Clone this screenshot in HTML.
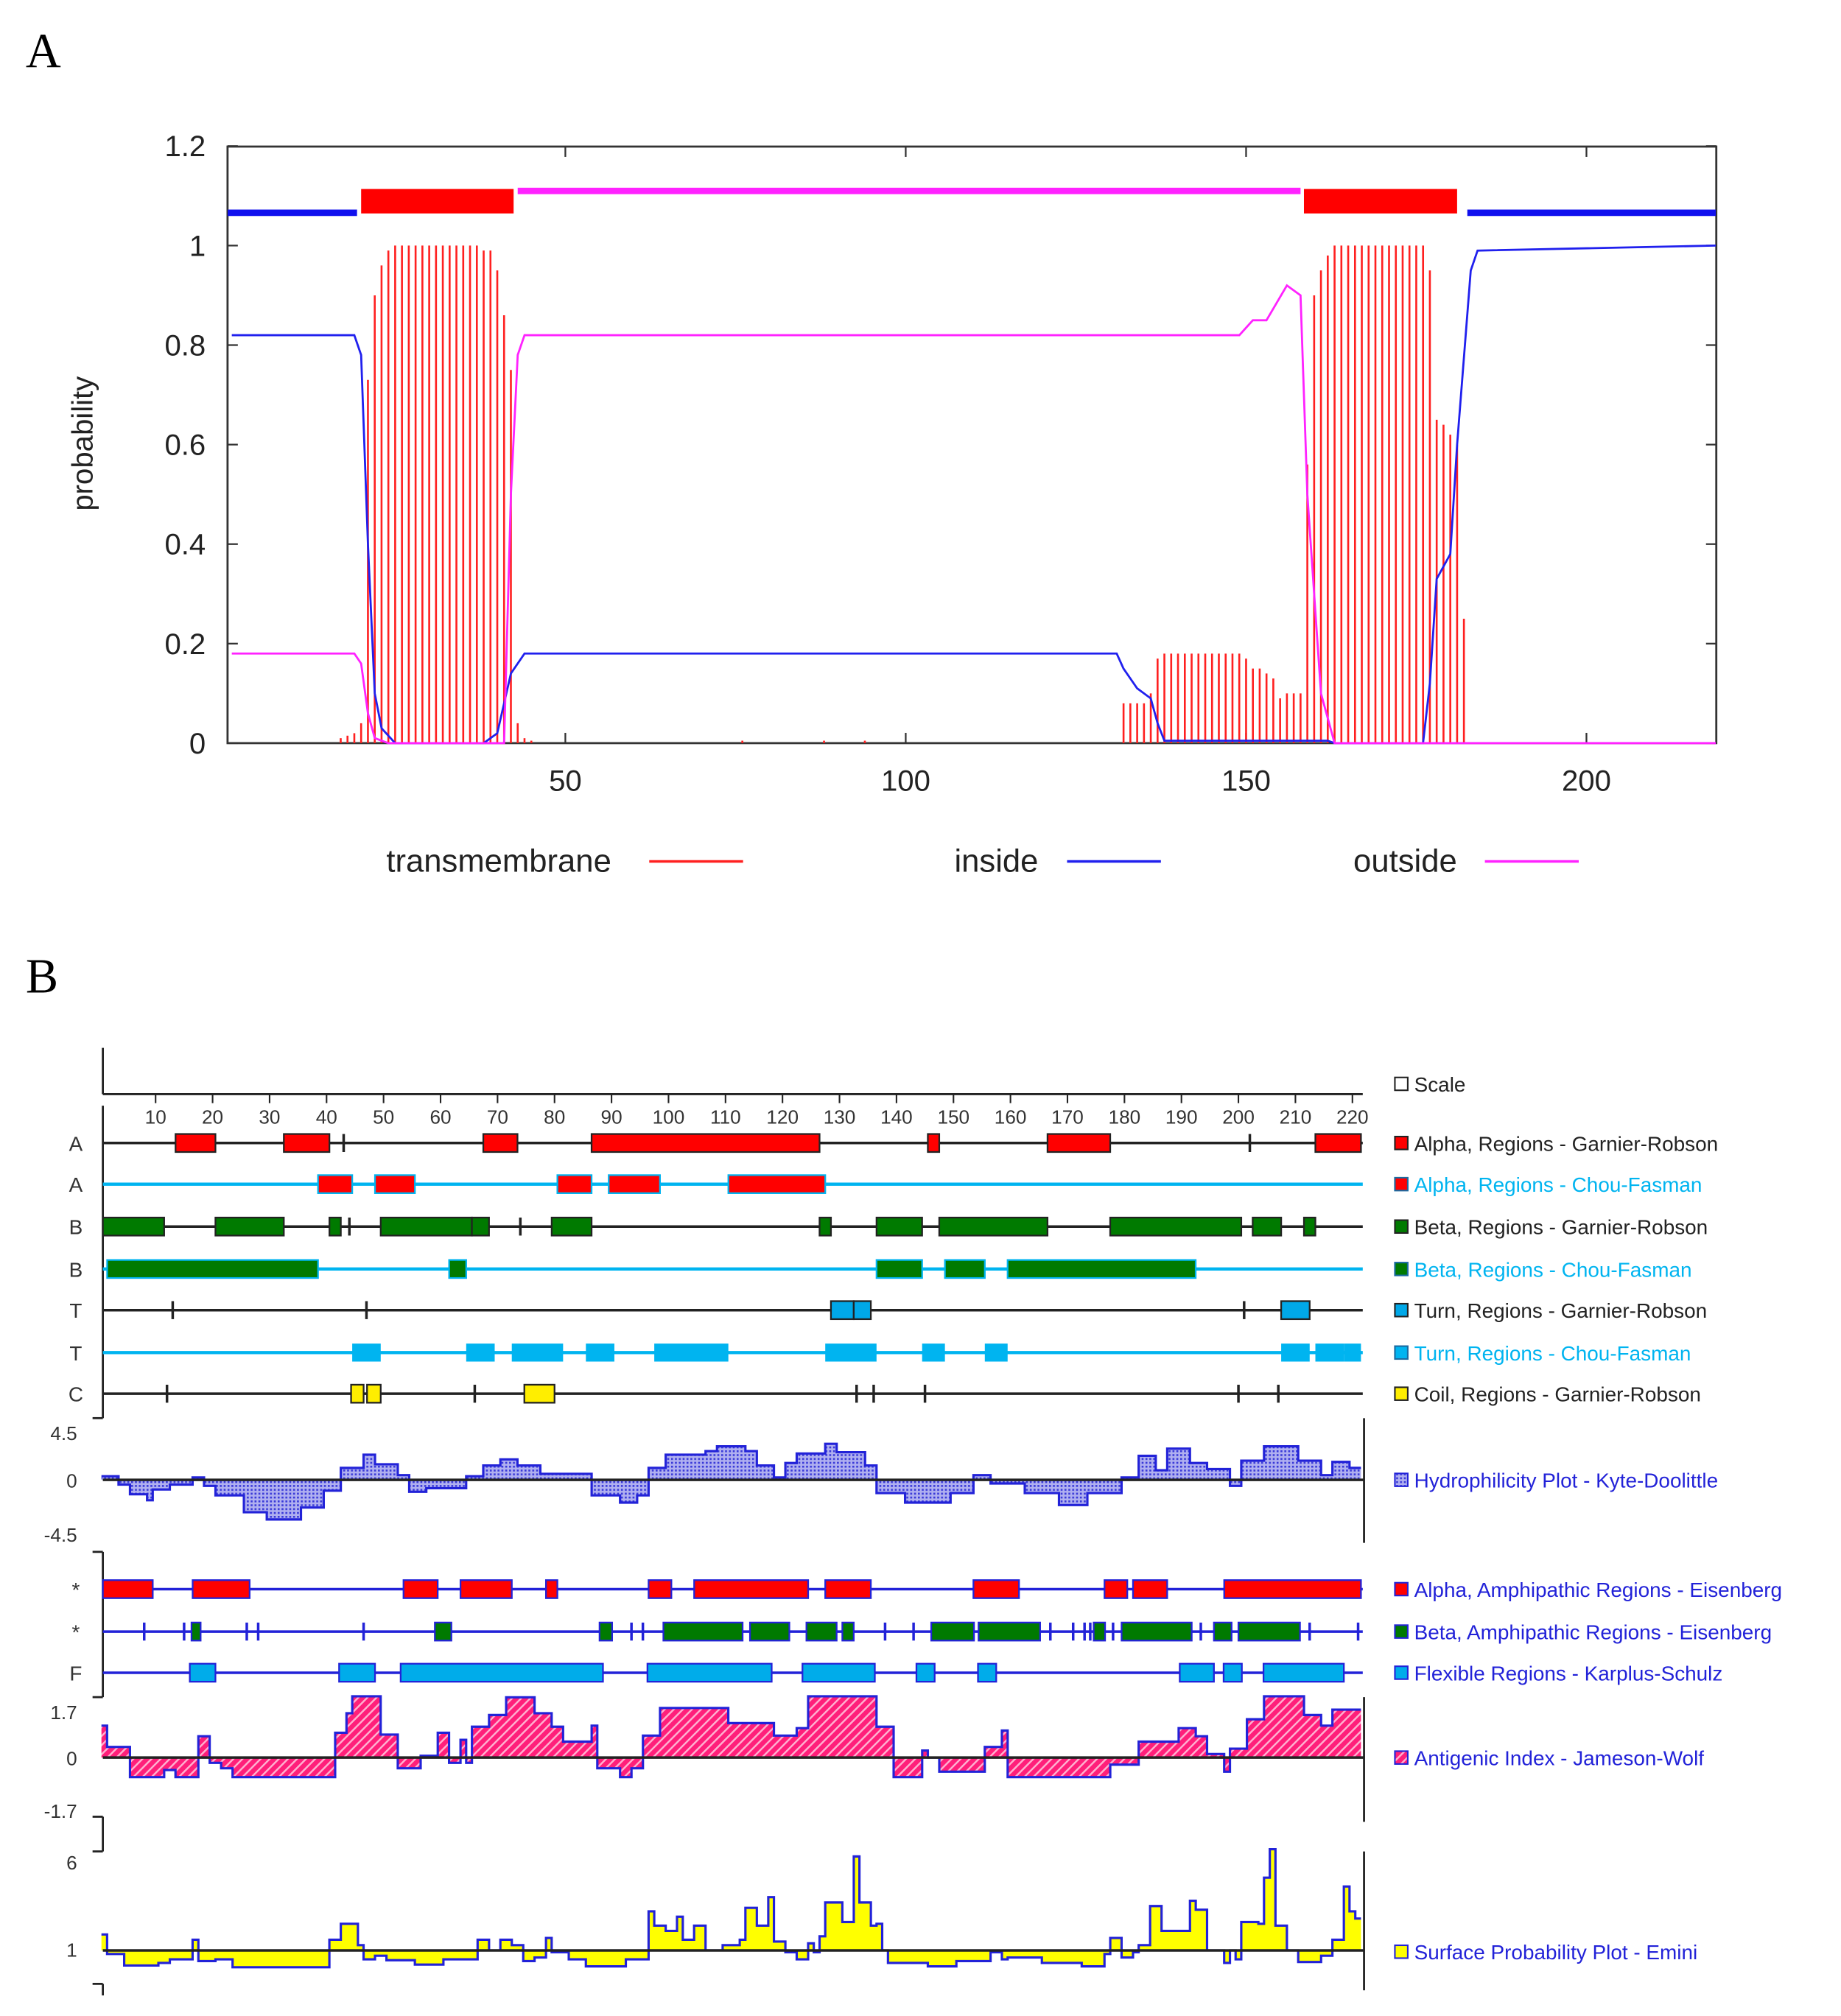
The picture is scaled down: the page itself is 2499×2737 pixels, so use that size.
<!DOCTYPE html>
<html><head><meta charset="utf-8">
<style>
html,body{margin:0;padding:0;background:#fff;}
svg{display:block;}
text{font-family:"Liberation Sans",sans-serif;}
</style></head>
<body>
<svg id="fig" xmlns="http://www.w3.org/2000/svg" width="2499" height="2737" viewBox="0 0 1432 1568" preserveAspectRatio="none">
<defs>
<pattern id="hatchPink" patternUnits="userSpaceOnUse" width="5" height="5" patternTransform="rotate(45)">
<rect width="5" height="5" fill="#ff1f7a"/><rect width="1.4" height="5" fill="#ffb0d0"/>
</pattern>
<pattern id="dotBlue" patternUnits="userSpaceOnUse" width="3" height="3">
<rect width="3" height="3" fill="#b0b0f0"/><rect width="1.5" height="1.5" fill="#3a3ad8"/>
</pattern>
</defs>
<text x="20" y="52" font-size="38" style="font-family:'Liberation Serif',serif">A</text>
<text x="20" y="772" font-size="38" style="font-family:'Liberation Serif',serif">B</text>
<g id="pa"></g>
<g id="pb"></g>
</svg>
<script>
// ---------- Panel A data ----------
const tmResidues = [17,18,19,20,21,22,23,24,25,26,27,28,29,30,31,32,33,34,35,36,37,38,39,40,41,42,43,44,45,76,88,94,
 132,133,134,135,136,137,138,139,140,141,142,143,144,145,146,147,148,149,150,151,152,153,154,155,156,157,158,
 159,160,161,162,163,164,165,166,167,168,169,170,171,172,173,174,175,176,177,178,179,180,181,182];
const tmValues = [0.01,0.015,0.02,0.04,0.73,0.9,0.96,0.99,1,1,1,1,1,1,1,1,1,1,1,1,1,0.99,0.99,0.95,0.86,0.75,0.04,0.01,0.005,0.005,0.005,0.005,
 0.08,0.08,0.08,0.08,0.1,0.17,0.18,0.18,0.18,0.18,0.18,0.18,0.18,0.18,0.18,0.18,0.18,0.18,0.17,0.15,0.15,0.14,0.13,0.09,0.1,0.1,0.1,
 0.56,0.9,0.95,0.98,1,1,1,1,1,1,1,1,1,1,1,1,1,1,0.95,0.65,0.64,0.62,0.6,0.25];
const insideRes = [1,19,20,21,22,23,25,38,40,41,42,44,131,132,134,136,137,138,162,163,176,177,178,180,181,183,184,219];
const insideVal = [0.82,0.82,0.78,0.4,0.1,0.03,0,0,0.02,0.08,0.14,0.18,0.18,0.15,0.11,0.09,0.04,0.005,0.005,0,0,0.12,0.33,0.38,0.6,0.95,0.99,1.0];
const outsideRes = [1,19,20,21,22,24,41,42,43,44,149,151,153,156,158,159,161,163,219];
const outsideVal = [0.18,0.18,0.16,0.06,0.01,0,0,0.5,0.78,0.82,0.82,0.85,0.85,0.92,0.9,0.5,0.1,0,0];
const topoStart = [0.4,20,43,158.5,182.5];
const topoEnd = [19.4,42.4,158,181,219];
const topoKind = ['inside','tm','outside','tm','inside'];
const yTicksA = [0,0.2,0.4,0.6,0.8,1,1.2];
const yTickLabelsA = ['0','0.2','0.4','0.6','0.8','1','1.2'];
const xTicksA = [50,100,150,200];

// ---------- Panel B data ----------
const scaleTicks = [10,20,30,40,50,60,70,80,90,100,110,120,130,140,150,160,170,180,190,200,210,220];
const alphaGRBoxes = [[14,20],[33,40],[68,73],[87,126],[146,147],[167,177],[214,221]];
const alphaGRTicks = [43,202];
const alphaCFBoxes = [[39,44],[49,55],[81,86],[90,98],[111,127]];
const betaGRBoxes = [[1,11],[21,32],[41,42],[50,65],[66,68],[80,86],[127,128],[137,144],[148,166],[178,200],[203,207],[212,213]];
const betaGRTicks = [44,74];
const betaCFBoxes = [[2,38],[62,64],[137,144],[149,155],[160,192]];
const turnGRBoxes = [[129,132],[133,135],[208,212]];
const turnGRTicks = [13,47,201];
const turnCFBoxes = [[45,49],[65,69],[73,81],[86,90],[98,110],[128,136],[145,148],[156,159],[208,212],[214,218],[219,221]];
const coilBoxes = [[44.8,46],[47.6,49],[75.2,79.5]];
const coilTicks = [12,66,133,136,145,200,207];
const amphAlphaBoxes = [[1,9],[17,26],[54,59],[64,72],[79,80],[97,100],[105,124],[128,135],[154,161],[177,180],[182,187],[198,221]];
const amphBetaBoxes = [[16.8,17.4],[59.5,61.4],[88.4,89.6],[99.6,112.5],[114.8,120.7],[124.7,129],[131,132],[146.6,153.1],[154.9,164.7],[175.1,176.1],[180,191.3],[196.2,198.3],[200.5,210.3]];
const amphBetaTicks = [8,15,26,28,46.5,93.5,95.5,138,143,167,171,173,174,178,193.4,212.5,221];
const flexBoxes = [[16.5,20],[42.7,48],[53.5,88],[96.8,117.6],[124,135.7],[144,146.2],[154.8,157],[190.2,195.2],[197.9,200.1],[204.9,218]];
const hydro = [[1,0.3],[4,-0.4],[6,-1.2],[9,-1.7],[10,-0.8],[13,-0.4],[17,0.2],[19,-0.5],[21,-1.3],[26,-2.7],[30,-3.3],[36,-2.3],[40,-0.9],[43,1.0],[47,2.1],[49,1.3],[53,0.4],[55,-1.0],[58,-0.7],[65,0.3],[68,1.2],[71,1.7],[74,1.2],[78,0.5],[87,-1.3],[92,-1.9],[95,-1.3],[97,1.0],[100,2.1],[107,2.4],[109,2.8],[114,2.4],[116,1.2],[119,0.2],[121,1.4],[123,2.2],[128,3.0],[130,2.3],[135,1.2],[137,-1.1],[142,-1.9],[150,-1.1],[154,0.4],[157,-0.3],[163,-1.1],[169,-2.1],[174,-1.1],[180,0.2],[183,2.0],[186,0.8],[188,2.6],[192,1.4],[195,0.9],[199,-0.5],[201,1.6],[205,2.8],[211,1.6],[215,0.4],[217,1.5],[220,1.0]];
const antigenic = [[1,0.9],[2,0.3],[6,-0.55],[12,-0.35],[14,-0.55],[18,0.6],[20,-0.15],[22,-0.3],[24,-0.55],[42,0.7],[44,1.25],[45,1.73],[50,0.65],[53,-0.3],[57,0.05],[60,0.7],[62,-0.15],[64,0.5],[65,-0.15],[66,0.87],[69,1.2],[72,1.7],[77,1.25],[80,0.87],[82,0.45],[87,0.9],[88,-0.3],[92,-0.55],[94,-0.3],[96,0.62],[99,1.4],[111,0.97],[119,0.62],[123,0.83],[125,1.73],[137,0.87],[140,-0.55],[145,0.2],[146,0],[148,-0.4],[156,0.3],[159,0.76],[160,-0.55],[178,-0.2],[183,0.45],[190,0.83],[193,0.6],[195,0.1],[198,-0.4],[199,0.25],[202,1.08],[205,1.73],[212,1.2],[215,0.9],[217,1.35]];
const surface = [[1,1.9],[2,0.8],[5,0.15],[11,0.3],[13,0.5],[17,1.6],[18,0.4],[21,0.5],[24,0.05],[41,1.6],[43,2.5],[46,1.3],[47,0.5],[49,0.7],[51,0.45],[56,0.2],[61,0.5],[67,1.6],[69,1.0],[71,1.6],[73,1.3],[75,0.4],[77,0.6],[79,1.7],[80,0.9],[83,0.5],[86,0.1],[93,0.5],[97,3.2],[98,2.4],[100,2.1],[102,2.9],[103,1.6],[105,2.4],[107,1.0],[110,1.3],[113,1.6],[114,3.4],[116,2.4],[118,4.0],[119,1.5],[121,0.9],[123,0.5],[125,1.4],[126,0.9],[127,1.8],[128,3.7],[131,2.6],[133,6.3],[134,3.7],[136,2.4],[137,2.5],[138,1.0],[139,0.3],[146,0.1],[151,0.4],[157,0.9],[159,0.5],[160,0.6],[166,0.3],[173,0.1],[177,0.8],[178,1.7],[180,0.6],[182,0.9],[183,1.3],[185,3.5],[187,2.1],[192,3.8],[193,3.3],[195,1.0],[198,0.3],[199,1.0],[200,0.5],[201,2.6],[204,2.5],[205,5.1],[206,6.7],[207,2.4],[209,1.0],[211,0.35],[215,0.7],[217,1.6],[219,4.6],[220,3.2],[221,2.8]];

const NS='http://www.w3.org/2000/svg';
function mk(parent, tag, attrs){const e=document.createElementNS(NS,tag);for(const k in attrs)e.setAttribute(k,attrs[k]);parent.appendChild(e);return e;}

// ---------- Panel A ----------
const pa=document.getElementById('pa');
const AX0=175, AXS=5.295, AY0=578, AYS=387;
const xA=r=>AX0+AXS*r, yA=v=>AY0-AYS*v;
let e;
e=mk(pa,'rect',{x:177,y:114,width:1158,height:464,fill:'none',stroke:'#333','stroke-width':1.6});


yTicksA.forEach((v,i)=>{
  e=mk(pa,'line',{x1:177,x2:185,y1:yA(v),y2:yA(v),stroke:'#333','stroke-width':1.3});
  
  
  e=mk(pa,'line',{x1:1327,x2:1335,y1:yA(v),y2:yA(v),stroke:'#333','stroke-width':1.3});
  
  
  e=mk(pa,'text',{x:160,y:yA(v)+8,'text-anchor':'end','font-size':23,fill:'#222'});
  e.textContent=yTickLabelsA[i];
  
  
});
xTicksA.forEach(v=>{
  e=mk(pa,'line',{x1:xA(v),x2:xA(v),y1:578,y2:570,stroke:'#333','stroke-width':1.3});
  
  
  e=mk(pa,'line',{x1:xA(v),x2:xA(v),y1:114,y2:122,stroke:'#333','stroke-width':1.3});
  
  
  e=mk(pa,'text',{x:xA(v),y:615,'text-anchor':'middle','font-size':23,fill:'#222'});
  e.textContent=String(v);
  
  
});
e=mk(pa,'text',{x:0,y:0,'text-anchor':'middle','font-size':23,fill:'#222',transform:'translate(72,345) rotate(-90)'});
e.textContent='probability';


tmResidues.forEach((r,i)=>{
  e=mk(pa,'line',{x1:xA(r),x2:xA(r),y1:AY0,y2:yA(tmValues[i]),stroke:'#ff2020','stroke-width':1.5});
  
  
});
function poly(res,vals){return res.map((r,i)=>(i?'L':'M')+xA(r).toFixed(1)+','+yA(vals[i]).toFixed(1)).join(' ');}
e=mk(pa,'path',{d:poly(insideRes,insideVal),fill:'none',stroke:'#2020ee','stroke-width':1.6});


e=mk(pa,'path',{d:poly(outsideRes,outsideVal),fill:'none',stroke:'#ff22ff','stroke-width':1.6});


topoKind.forEach((k,i)=>{
  const x1=Math.max(177,xA(topoStart[i])), x2=Math.min(1335,xA(topoEnd[i]));
  if(k==='tm'){e=mk(pa,'rect',{x:x1,y:147,width:x2-x1,height:19,fill:'#ff0000'});}
  else if(k==='inside'){e=mk(pa,'rect',{x:x1,y:163,width:x2-x1,height:5,fill:'#1010ee'});}
  else {e=mk(pa,'rect',{x:x1,y:146,width:x2-x1,height:5,fill:'#ff22ff'});}
  
  
});
[['transmembrane',388,505,'#ff2020'],['inside',775,830,'#2020ee'],['outside',1093,1155,'#ff22ff']].forEach(l=>{
  e=mk(pa,'text',{x:l[1],y:678,'text-anchor':'middle','font-size':25,fill:'#222'});
  e.textContent=l[0];
  
  
  e=mk(pa,'line',{x1:l[2],x2:l[2]+73,y1:670,y2:670,stroke:l[3],'stroke-width':2});
  
  
});

// ---------- Panel B ----------
const pb=document.getElementById('pb');
const BX0=76.7, BXS=4.433;
const xB=r=>BX0+BXS*r;
const LX1=80, LX2=1060;
const BLACK='#222', CYAN='#00b4f0', BLUE='#2222d8';
[[80,815,80,851],[80,851,1060,851],[80,860,80,1103],[72,1103,80,1103],[72,1207,80,1207],[80,1207,80,1320],[72,1320,80,1320],[72,1413,80,1413],[80,1413,80,1440],[72,1440,80,1440],[72,1543,80,1543],[80,1543,80,1552],
 [1061,1103,1061,1200],[1061,1320,1061,1417],[1061,1440,1061,1548]].forEach(s=>{
  e=mk(pb,'line',{x1:s[0],y1:s[1],x2:s[2],y2:s[3],stroke:BLACK,'stroke-width':1.6});
  
  
});
scaleTicks.forEach(t=>{
  e=mk(pb,'line',{x1:xB(t),x2:xB(t),y1:851,y2:858,stroke:BLACK,'stroke-width':1.2});
  
  
  e=mk(pb,'text',{x:xB(t),y:874,'text-anchor':'middle','font-size':15,fill:'#333'});
  e.textContent=String(t);
  
  
});
function row(name,y,letter,lineColor,lw,boxes,fill,stroke,ticks,tickColor){
  e=mk(pb,'line',{x1:LX1,x2:LX2,y1:y,y2:y,stroke:lineColor,'stroke-width':lw});
  
  
  if(letter){
    e=mk(pb,'text',{x:59,y:y+6,'text-anchor':'middle','font-size':16,fill:'#333'});
    e.textContent=letter;
    
    
  }
  boxes.forEach(b=>{
    const x1=Math.max(LX1,xB(b[0]-0.5)), x2=Math.min(LX2,xB(b[1]+0.5));
    const a={x:x1,y:y-7,width:x2-x1,height:14,fill:fill};
    if(stroke){a.stroke=stroke;a['stroke-width']=1.3;}
    e=mk(pb,'rect',a);
    
    
  });
  (ticks||[]).forEach(t=>{
    e=mk(pb,'line',{x1:Math.min(LX2,xB(t)),x2:Math.min(LX2,xB(t)),y1:y-7,y2:y+7,stroke:tickColor,'stroke-width':2});
    
    
  });
}
row('alpha-garnier',889,'A',BLACK,2,alphaGRBoxes,'#ff0000',BLACK,alphaGRTicks,BLACK);
row('alpha-chou',921,'A',CYAN,2.5,alphaCFBoxes,'#ff0000',CYAN,[],CYAN);
row('beta-garnier',954,'B',BLACK,2,betaGRBoxes,'#007a00',BLACK,betaGRTicks,BLACK);
row('beta-chou',987,'B',CYAN,2.5,betaCFBoxes,'#007a00',CYAN,[],CYAN);
row('turn-garnier',1019,'T',BLACK,2,turnGRBoxes,'#00a8e8',BLACK,turnGRTicks,BLACK);
row('turn-chou',1052,'T',CYAN,2.5,turnCFBoxes,CYAN,null,[],CYAN);
row('coil-garnier',1084,'C',BLACK,2,coilBoxes,'#ffee00',BLACK,coilTicks,BLACK);
row('amph-alpha',1236,'*',BLUE,2,amphAlphaBoxes,'#ff0000',BLUE,[],BLUE);
row('amph-beta',1269,'*',BLUE,2,amphBetaBoxes,'#007a00',BLUE,amphBetaTicks,BLUE);
row('flexible',1301,'F',BLUE,2,flexBoxes,'#00acea',BLUE,[],BLUE);

function profile(name,data,base,baseVal,scale,fill){
  const y=v=>base-(v-baseVal)*scale;
  let d='M'+xB(data[0][0]-0.5).toFixed(1)+','+base;
  let o='';
  data.forEach((p,i)=>{
    const x1=xB(p[0]-0.5), x2=Math.min(LX2+1,i<data.length-1?xB(data[i+1][0]-0.5):xB(221.5));
    d+=' L'+x1.toFixed(1)+','+y(p[1]).toFixed(1)+' L'+x2.toFixed(1)+','+y(p[1]).toFixed(1);
    o+=(i?' L':'M')+x1.toFixed(1)+','+y(p[1]).toFixed(1)+' L'+x2.toFixed(1)+','+y(p[1]).toFixed(1);
  });
  const last=Math.min(LX2+1,xB(221.5));
  d+=' L'+last.toFixed(1)+','+base+' Z';
  e=mk(pb,'path',{d:d,fill:fill,stroke:'none'});
  
  
  e=mk(pb,'path',{d:o,fill:'none',stroke:BLUE,'stroke-width':1.8});
  
  
  e=mk(pb,'line',{x1:LX1,x2:1061,y1:base,y2:base,stroke:BLACK,'stroke-width':2});
  
  
}
profile('hydrophilicity',hydro,1151,0,9.33,'url(#dotBlue)');
profile('antigenic-index',antigenic,1367,0,27.6,'url(#hatchPink)');
profile('surface-probability',surface,1517,1,13.8,'#ffff00');

[['4.5',1120],['0',1157],['-4.5',1199],['1.7',1337],['0',1373],['-1.7',1414],['6',1454],['1',1522]].forEach(l=>{
  e=mk(pb,'text',{x:60,y:l[1],'text-anchor':'end','font-size':15,fill:'#333'});
  e.textContent=l[0];
  
  
});

const legendItems=[
 ['Scale',843,'#fff','#222'],
 ['Alpha, Regions - Garnier-Robson',889,'#ff0000','#222'],
 ['Alpha, Regions - Chou-Fasman',921,'#ff0000',CYAN],
 ['Beta, Regions - Garnier-Robson',954,'#007a00','#222'],
 ['Beta, Regions - Chou-Fasman',987,'#007a00',CYAN],
 ['Turn, Regions - Garnier-Robson',1019,'#00a8e8','#222'],
 ['Turn, Regions - Chou-Fasman',1052,CYAN,CYAN],
 ['Coil, Regions - Garnier-Robson',1084,'#ffee00','#222'],
 ['Hydrophilicity Plot - Kyte-Doolittle',1151,'url(#dotBlue)',BLUE],
 ['Alpha, Amphipathic Regions - Eisenberg',1236,'#ff0000',BLUE],
 ['Beta, Amphipathic Regions - Eisenberg',1269,'#007a00',BLUE],
 ['Flexible Regions - Karplus-Schulz',1301,'#00acea',BLUE],
 ['Antigenic Index - Jameson-Wolf',1367,'url(#hatchPink)',BLUE],
 ['Surface Probability Plot - Emini',1518,'#ffff00',BLUE]];
legendItems.forEach(l=>{
  e=mk(pb,'rect',{x:1085,y:l[1]-5,width:10,height:10,fill:l[2],stroke:l[3]==CYAN?'#1a6aa0':(l[3]=='#222'?'#222':BLUE),'stroke-width':1.2});
  
  
  e=mk(pb,'text',{x:1100,y:l[1]+6,'font-size':16,fill:l[3]});
  e.textContent=l[0];
  
  
});
</script>
</body></html>
